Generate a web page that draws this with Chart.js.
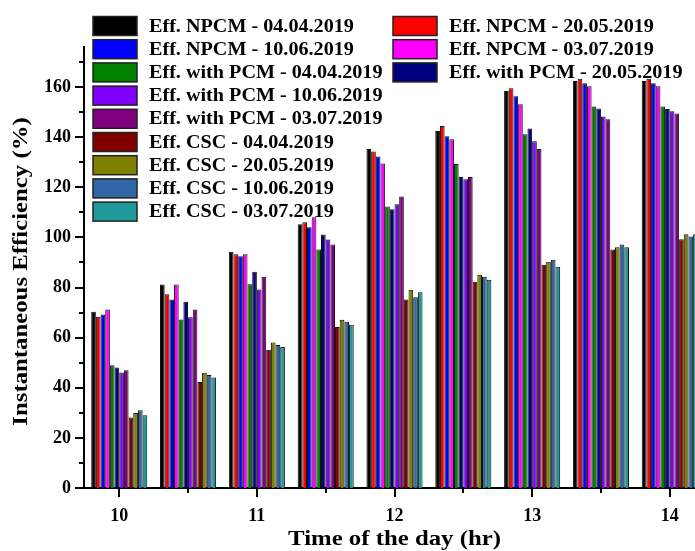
<!DOCTYPE html>
<html>
<head>
<meta charset="utf-8">
<script src="https://cdn.jsdelivr.net/npm/chart.js@4.4.0/dist/chart.umd.min.js"></script>
<style>
  html, body { margin: 0; padding: 0; background: #fff; overflow: hidden; }
  #wrap { width: 720px; height: 551px; }
</style>
</head>
<body>
<div id="wrap"><canvas id="myChart" width="720" height="551"></canvas></div>
<script>
// time of day (hr)
var hours = [10, 10.5, 11, 11.5, 12, 12.5, 13, 13.5, 14];

// instantaneous efficiency (%) per run
var npcm0404 = [70.3, 81.2, 94.3, 105.3, 135.3, 142.5, 158.4, 162.4, 162.4];
var npcm2005 = [68.3, 77.3, 93.3, 106.1, 134.3, 144.5, 159.5, 163.3, 163.3];
var npcm1006 = [69.2, 75.2, 92.5, 104.1, 132.3, 140.4, 156.3, 161.5, 161.5];
var npcm0307 = [71.2, 81.2, 93.3, 108.1, 129.5, 139.2, 153.2, 160.3, 160.3];
var pcm0404 = [49.0, 67.2, 81.3, 95.2, 112.3, 129.3, 141.2, 152.3, 152.3];
var pcm2005 = [48.1, 74.3, 86.3, 101.2, 111.2, 124.1, 143.5, 151.5, 151.3];
var pcm1006 = [46.1, 68.1, 79.2, 99.2, 113.2, 123.2, 138.4, 148.3, 150.4];
var pcm0307 = [47.0, 71.2, 84.3, 97.2, 116.3, 124.1, 135.3, 147.2, 149.5];
var csc0404 = [28.1, 42.3, 55.2, 64.3, 75.2, 82.3, 89.1, 95.2, 99.3];
var csc2005 = [29.9, 46.0, 58.1, 67.1, 79.1, 85.1, 90.3, 96.1, 101.3];
var csc1006 = [31.0, 45.1, 57.1, 66.3, 76.1, 84.3, 91.1, 97.2, 100.4];
var csc0307 = [29.0, 44.1, 56.3, 65.2, 78.1, 83.1, 88.3, 96.1, 101.3];

var seriesNames = [
  'Eff. NPCM - 04.04.2019', 'Eff. NPCM - 20.05.2019',
  'Eff. NPCM - 10.06.2019', 'Eff. NPCM - 03.07.2019',
  'Eff. with PCM - 04.04.2019', 'Eff. with PCM - 20.05.2019',
  'Eff. with PCM - 10.06.2019', 'Eff. with PCM - 03.07.2019',
  'Eff. CSC - 04.04.2019', 'Eff. CSC - 20.05.2019',
  'Eff. CSC - 10.06.2019', 'Eff. CSC - 03.07.2019'
];
var seriesValues = [npcm0404, npcm2005, npcm1006, npcm0307,
  pcm0404, pcm2005, pcm1006, pcm0307,
  csc0404, csc2005, csc1006, csc0307];
var seriesColors = ['#000000', '#ff0000', '#0000ff', '#ff00ff',
  '#008000', '#000080', '#8000ff', '#800080',
  '#800000', '#808000', '#3366a6', '#1f9999'];

var xTicks = [10, 11, 12, 13, 14];
var xMinorTicks = [10.5, 11.5, 12.5, 13.5];
var yTicks = [0, 20, 40, 60, 80, 100, 120, 140, 160];
var yMinorTicks = [10, 30, 50, 70, 90, 110, 130, 150, 170];

var xTitle = 'Time of the day (hr)';
var yTitle = 'Instantaneous Efficiency (%)';

// legend: first column, second column (dataset indices)
var legendCol1 = [0, 2, 4, 6, 7, 8, 9, 10, 11];
var legendCol2 = [1, 3, 5];

var serif = '"Liberation Serif", "Times New Roman", serif';
// the serif used here is narrower than the original one, widen text a bit
var textStretch = 1.18;

const datasets = seriesValues.map((vals, i) => ({
  label: seriesNames[i],
  data: vals.map((v, j) => ({ x: hours[j], y: v })),
  backgroundColor: seriesColors[i],
  borderColor: '#111',
  borderWidth: 1,
  barPercentage: 1,
  categoryPercentage: 0.815,
}));

function wideText(ctx, text, x, y, angle) {
  ctx.save();
  ctx.translate(x, y);
  if (angle) ctx.rotate(angle);
  ctx.scale(textStretch, 1);
  ctx.fillText(text, 0, 0);
  ctx.restore();
}

// tick marks (major long, minor short) pointing outward
const tickMarks = {
  id: 'tickMarks',
  afterDraw(chart) {
    const ctx = chart.ctx;
    const xs = chart.scales.x;
    const ys = chart.scales.y;
    const area = chart.chartArea;
    ctx.save();
    ctx.strokeStyle = '#000';
    ctx.lineWidth = 2;
    ctx.beginPath();
    xTicks.forEach((v) => {
      const px = Math.round(xs.getPixelForValue(v));
      ctx.moveTo(px, area.bottom);
      ctx.lineTo(px, area.bottom + 9);
    });
    xMinorTicks.forEach((v) => {
      const px = Math.round(xs.getPixelForValue(v));
      ctx.moveTo(px, area.bottom);
      ctx.lineTo(px, area.bottom + 5);
    });
    yTicks.forEach((v) => {
      const py = Math.round(ys.getPixelForValue(v));
      ctx.moveTo(area.left, py);
      ctx.lineTo(area.left - 9, py);
    });
    yMinorTicks.forEach((v) => {
      const py = Math.round(ys.getPixelForValue(v));
      ctx.moveTo(area.left, py);
      ctx.lineTo(area.left - 5, py);
    });
    ctx.stroke();

    // axis titles
    ctx.fillStyle = '#000';
    ctx.font = 'bold 21px ' + serif;
    ctx.textAlign = 'center';
    ctx.textBaseline = 'middle';
    wideText(ctx, xTitle, (area.left + area.right) / 2, 540);
    wideText(ctx, yTitle, 22, (area.top + area.bottom) / 2 + 4, -Math.PI / 2);
    ctx.restore();
  },
};

// two column legend at the top left
const boxLegend = {
  id: 'boxLegend',
  afterDraw(chart) {
    const ctx = chart.ctx;
    ctx.save();
    ctx.font = 'bold 18px ' + serif;
    ctx.textBaseline = 'middle';
    ctx.textAlign = 'left';
    const drawItem = (idx, row, boxX, textX) => {
      const cy = 26 + row * 23.2;
      ctx.fillStyle = seriesColors[idx];
      ctx.fillRect(boxX, cy - 9.5, 44, 19);
      ctx.strokeStyle = '#222';
      ctx.lineWidth = 1.5;
      ctx.strokeRect(boxX, cy - 9.5, 44, 19);
      ctx.fillStyle = '#000';
      ctx.save();
      ctx.translate(textX, cy + 1);
      ctx.scale(1.12, 1);
      ctx.fillText(chart.data.datasets[idx].label, 0, 0);
      ctx.restore();
    };
    legendCol1.forEach((idx, r) => drawItem(idx, r, 93, 149));
    legendCol2.forEach((idx, r) => drawItem(idx, r, 393, 449));
    ctx.restore();
  },
};

const ctx = document.getElementById('myChart').getContext('2d');
const myChart = new Chart(ctx, {
  type: 'bar',
  data: { datasets: datasets },
  plugins: [tickMarks, boxLegend],
  options: {
    responsive: false,
    animation: false,
    layout: { padding: { top: 47, right: 15, left: 0, bottom: 0 } },
    plugins: {
      legend: { display: false },
      tooltip: { enabled: false },
    },
    scales: {
      x: {
        type: 'linear',
        offset: false,
        min: 9.744,
        max: 14.256,
        afterBuildTicks: (s) => { s.ticks = xTicks.map((v) => ({ value: v })); },
        afterFit: (s) => { s.height = 63; },
        grid: { display: false, drawTicks: false },
        border: { display: true, color: '#000', width: 2 },
        ticks: {
          padding: 18,
          color: '#000',
          font: { family: serif, size: 18, weight: 'bold' },
        },
      },
      y: {
        min: 0,
        max: 176,
        afterBuildTicks: (s) => { s.ticks = yTicks.map((v) => ({ value: v })); },
        afterFit: (s) => { s.width = 84; },
        grid: { display: false, drawTicks: false },
        border: { display: true, color: '#000', width: 2 },
        ticks: {
          padding: 13,
          color: '#000',
          font: { family: serif, size: 18, weight: 'bold' },
        },
      },
    },
  },
});
</script>
</body>
</html>
